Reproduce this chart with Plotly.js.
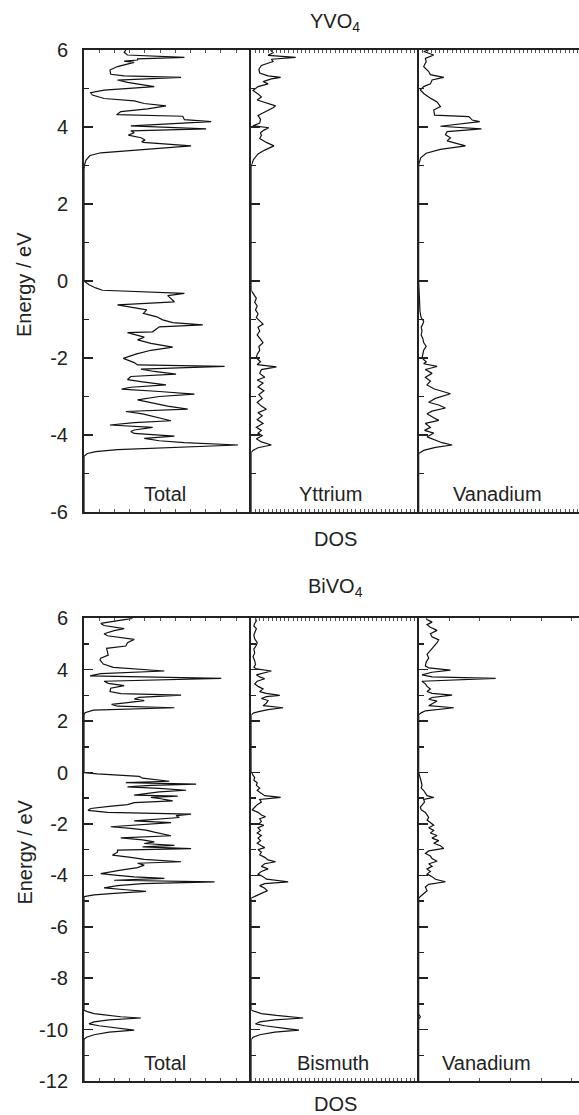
<!DOCTYPE html>
<html>
<head>
<meta charset="utf-8">
<script src="https://cdn.plot.ly/plotly-3.0.1.min.js"></script>
<style>
  html, body { margin: 0; padding: 0; background: #fff; overflow: hidden; }
  #chart { width: 600px; height: 1115px; }
</style>
</head>
<body>
<div id="chart"></div>
<script>
// ---------------- DATA: [energy (eV), DOS (arb. units)] ----------------
const panelNames = ["Total", "Yttrium", "Vanadium", "Total", "Bismuth", "Vanadium"];
const chartTitles = ["YVO<sub>4</sub>", "BiVO<sub>4</sub>"];
const xTitle = "DOS";
const yTitle = "Energy / eV";
const topTickVals = [-6, -4, -2, 0, 2, 4, 6];
const topMinorVals = [-5, -3, -1, 1, 3, 5];
const botTickVals = [-12, -10, -8, -6, -4, -2, 0, 2, 4, 6];
const botMinorVals = [-11, -9, -7, -5, -3, -1, 1, 3, 5];

const yvo4Total = [
  [6.0,2.5],[5.94,2.4],[5.87,2.6],[5.81,6.0],[5.77,3.2],[5.74,3.2],[5.71,2.4],[5.68,3.0],[5.57,2.0],[5.48,1.55],
  [5.37,1.6],[5.33,2.4],[5.29,5.8],[5.22,2.0],[5.16,2.6],[5.05,4.2],[4.96,1.2],[4.89,0.4],[4.83,0.5],[4.74,1.2],
  [4.68,3.0],[4.61,3.6],[4.55,4.9],[4.47,3.8],[4.40,2.2],[4.32,1.95],[4.28,5.9],[4.19,6.0],[4.14,7.6],[4.03,2.8],
  [3.95,7.3],[3.90,2.8],[3.85,3.0],[3.79,2.65],[3.72,3.4],[3.66,3.65],[3.62,3.45],[3.60,3.55],[3.51,6.4],[3.33,1.0],
  [3.26,0.36],[3.14,0.12],[3.0,0.02],[2.9,0],
  [0.0,0],[-0.1,0.3],[-0.18,0.7],[-0.24,1.1],[-0.32,6.0],[-0.38,5.0],[-0.54,5.4],[-0.62,2.0],[-0.75,3.75],[-0.84,3.55],
  [-0.93,4.35],[-1.01,4.7],[-1.08,5.3],[-1.14,7.1],[-1.19,4.5],[-1.32,4.1],[-1.34,2.6],[-1.46,3.6],[-1.53,3.2],[-1.62,4.0],
  [-1.72,5.3],[-1.80,4.0],[-1.90,3.1],[-2.01,2.35],[-2.12,3.0],[-2.18,3.2],[-2.22,8.4],[-2.29,3.4],[-2.35,4.2],[-2.42,5.5],
  [-2.48,2.8],[-2.56,2.6],[-2.62,3.5],[-2.70,4.9],[-2.76,2.8],[-2.81,2.25],[-2.87,4.5],[-2.94,6.6],[-3.00,4.5],[-3.09,3.2],
  [-3.16,4.0],[-3.25,5.0],[-3.33,6.2],[-3.39,2.5],[-3.45,3.5],[-3.55,4.5],[-3.63,5.2],[-3.68,3.0],[-3.74,1.55],[-3.80,4.1],
  [-3.87,3.0],[-3.91,2.8],[-3.96,3.0],[-4.03,5.4],[-4.09,3.6],[-4.15,4.5],[-4.20,6.0],[-4.26,9.2],[-4.32,5.0],[-4.38,2.0],
  [-4.43,0.7],[-4.48,0.2],[-4.55,0],[-6.0,0]
];
const yvo4Yttrium = [
  [6.0,1.15],[5.93,1.3],[5.86,1.0],[5.81,2.65],[5.76,1.2],[5.7,1.3],[5.6,0.6],[5.5,0.45],[5.4,0.5],[5.33,1.0],
  [5.29,1.75],[5.25,1.2],[5.18,0.7],[5.12,1.0],[5.05,0.4],[4.95,0.1],[4.86,0.4],[4.78,0.6],[4.7,0.35],[4.62,1.0],
  [4.55,1.45],[4.5,1.3],[4.4,0.8],[4.3,0.4],[4.2,0.55],[4.1,0.5],[4.03,0.1],[3.98,1.05],[3.92,0.75],[3.85,0.55],
  [3.78,0.6],[3.7,0.5],[3.6,0.9],[3.51,1.35],[3.4,0.8],[3.3,0.4],[3.15,0.12],[3.0,0],
  [-0.25,0],[-0.35,0.15],[-0.45,0.3],[-0.55,0.2],[-0.65,0.35],[-0.75,0.25],[-0.85,0.4],[-0.95,0.3],[-1.05,0.55],[-1.12,0.7],
  [-1.2,0.4],[-1.3,0.5],[-1.4,0.35],[-1.5,0.55],[-1.6,0.7],[-1.7,0.45],[-1.8,0.5],[-1.9,0.35],[-2.0,0.3],[-2.1,0.55],
  [-2.17,0.35],[-2.23,1.5],[-2.3,0.6],[-2.4,0.5],[-2.5,0.8],[-2.57,0.35],[-2.65,0.7],[-2.75,0.4],[-2.85,0.75],[-2.95,0.45],
  [-3.05,0.65],[-3.15,0.35],[-3.25,0.6],[-3.33,0.9],[-3.42,0.4],[-3.5,0.65],[-3.6,0.35],[-3.7,0.7],[-3.8,0.3],[-3.88,0.6],
  [-3.95,0.4],[-4.02,0.65],[-4.1,0.3],[-4.18,0.6],[-4.26,1.2],[-4.33,0.4],[-4.4,0.1],[-4.45,0],[-6.0,0]
];
const yvo4Vanadium = [
  [6.0,0.6],[5.96,0.3],[5.87,0.9],[5.78,0.4],[5.7,0.45],[5.57,0.3],[5.44,0.6],[5.36,0.7],[5.29,1.5],[5.22,0.8],
  [5.12,0.7],[5.05,0.3],[4.96,0.1],[4.87,0.3],[4.75,0.7],[4.65,1.1],[4.53,1.3],[4.44,0.9],[4.31,0.95],[4.27,3.0],
  [4.18,3.2],[4.14,3.65],[4.02,1.3],[3.95,3.75],[3.88,1.7],[3.8,1.6],[3.72,1.9],[3.64,1.7],[3.51,2.8],[3.42,1.3],
  [3.32,0.45],[3.2,0.12],[3.05,0.02],[3.0,0],
  [0.0,0],[-0.2,0.02],[-0.4,0.05],[-0.6,0.05],[-0.8,0.08],[-0.95,0.15],[-1.05,0.3],[-1.12,0.25],[-1.2,0.15],[-1.3,0.2],
  [-1.4,0.15],[-1.5,0.25],[-1.6,0.3],[-1.7,0.45],[-1.8,0.3],[-1.9,0.25],[-2.0,0.2],[-2.1,0.45],[-2.15,0.3],[-2.22,1.1],
  [-2.3,0.4],[-2.4,0.8],[-2.5,0.4],[-2.6,0.7],[-2.7,0.5],[-2.8,0.9],[-2.93,1.9],[-3.05,1.0],[-3.15,0.6],[-3.22,1.2],
  [-3.3,1.6],[-3.38,0.8],[-3.45,0.5],[-3.55,0.9],[-3.62,1.2],[-3.7,0.4],[-3.8,0.7],[-3.88,0.35],[-3.95,0.9],[-4.05,0.5],
  [-4.12,0.9],[-4.2,1.4],[-4.26,2.0],[-4.32,1.0],[-4.4,0.3],[-4.48,0],[-6.0,0]
];
const bivo4Total = [
  [6.0,2.9],[5.8,1.0],[5.72,1.2],[5.6,2.4],[5.52,1.8],[5.4,1.2],[5.32,1.4],[5.18,3.0],[5.05,2.6],[4.92,2.5],
  [4.83,1.35],[4.7,1.4],[4.57,1.45],[4.45,1.0],[4.38,0.95],[4.22,1.15],[4.09,1.75],[3.95,4.8],[3.85,1.0],[3.76,0.36],
  [3.66,8.2],[3.55,1.2],[3.47,1.45],[3.38,2.4],[3.28,1.6],[3.15,1.55],[3.07,2.2],[3.01,5.8],[2.92,3.3],[2.86,3.0],
  [2.8,3.6],[2.72,2.6],[2.65,1.65],[2.58,2.0],[2.52,5.4],[2.43,0.56],[2.33,0.06],[2.25,0],
  [0.0,0],[-0.05,0.8],[-0.1,2.5],[-0.15,3.3],[-0.22,3.5],[-0.3,4.5],[-0.34,5.1],[-0.39,2.5],[-0.45,6.7],[-0.5,4.0],
  [-0.56,2.6],[-0.62,4.5],[-0.69,6.1],[-0.75,4.5],[-0.82,3.5],[-0.88,3.0],[-0.92,5.6],[-0.97,4.0],[-1.01,4.5],[-1.1,5.3],
  [-1.17,3.0],[-1.25,2.6],[-1.32,1.5],[-1.4,0.4],[-1.47,0.24],[-1.55,1.4],[-1.62,6.4],[-1.68,5.5],[-1.75,5.7],[-1.82,4.0],
  [-1.88,3.0],[-1.95,5.2],[-2.02,3.5],[-2.11,1.6],[-2.17,2.8],[-2.24,3.7],[-2.32,4.2],[-2.4,4.8],[-2.46,5.2],[-2.54,2.2],
  [-2.62,3.5],[-2.7,4.2],[-2.76,3.6],[-2.83,5.4],[-2.89,3.5],[-2.96,6.4],[-3.02,2.0],[-3.1,2.0],[-3.21,1.7],[-3.3,2.8],
  [-3.38,3.6],[-3.47,5.8],[-3.53,3.2],[-3.6,3.6],[-3.7,3.2],[-3.8,2.2],[-3.93,1.0],[-4.0,2.0],[-4.06,3.0],[-4.12,4.8],
  [-4.19,1.8],[-4.25,7.8],[-4.32,3.5],[-4.4,2.0],[-4.49,1.2],[-4.56,2.5],[-4.62,3.7],[-4.7,1.8],[-4.76,0.6],[-4.83,0],
  [-9.25,0],[-9.3,0.2],[-9.38,0.6],[-9.42,1.1],[-9.5,2.2],[-9.55,3.4],[-9.62,1.5],[-9.7,0.6],[-9.78,0.3],[-9.85,0.9],
  [-9.95,2.2],[-10.02,3.0],[-10.1,1.5],[-10.2,0.6],[-10.3,0.15],[-10.38,0],[-12.0,0]
];
const bivo4Bismuth = [
  [6.0,0.25],[5.9,0.3],[5.8,0.2],[5.7,0.15],[5.6,0.3],[5.5,0.25],[5.35,0.15],[5.2,0.2],[5.05,0.35],[4.95,0.3],
  [4.8,0.15],[4.65,0.2],[4.5,0.1],[4.35,0.2],[4.2,0.25],[4.1,0.15],[4.03,0.3],[3.95,1.2],[3.88,0.7],[3.8,0.3],
  [3.72,0.5],[3.65,0.8],[3.55,0.35],[3.45,0.2],[3.35,0.4],[3.25,0.7],[3.15,0.5],[3.08,0.9],[3.0,1.7],[2.95,0.9],
  [2.88,0.6],[2.8,1.0],[2.7,0.9],[2.6,0.7],[2.52,1.9],[2.45,1.0],[2.38,0.5],[2.32,0.15],[2.25,0],
  [0.0,0],[-0.1,0.1],[-0.2,0.2],[-0.3,0.15],[-0.4,0.35],[-0.5,0.3],[-0.6,0.5],[-0.7,0.35],[-0.8,0.6],[-0.9,0.8],
  [-0.97,1.75],[-1.05,0.5],[-1.15,0.6],[-1.25,0.35],[-1.35,0.2],[-1.45,0.05],[-1.55,0.4],[-1.65,0.6],[-1.72,0.85],[-1.8,0.5],
  [-1.9,0.6],[-2.0,0.45],[-2.05,0.75],[-2.15,0.4],[-2.25,0.55],[-2.35,0.35],[-2.45,0.6],[-2.55,0.4],[-2.65,0.55],[-2.75,0.35],
  [-2.85,0.6],[-2.92,0.8],[-3.0,0.4],[-3.1,0.6],[-3.2,0.5],[-3.3,0.8],[-3.4,1.0],[-3.47,1.45],[-3.55,0.8],[-3.65,0.6],
  [-3.75,1.0],[-3.85,0.6],[-3.95,0.4],[-4.05,0.7],[-4.15,0.9],[-4.25,2.2],[-4.32,0.8],[-4.4,0.5],[-4.5,0.8],[-4.6,0.95],
  [-4.7,0.6],[-4.8,0.3],[-4.88,0],
  [-9.25,0],[-9.3,0.2],[-9.38,0.6],[-9.45,1.5],[-9.55,3.1],[-9.62,1.4],[-9.7,0.5],[-9.78,0.25],[-9.85,0.8],[-9.95,2.0],
  [-10.02,2.85],[-10.1,1.4],[-10.2,0.5],[-10.3,0.1],[-10.38,0],[-12.0,0]
];
const bivo4Vanadium = [
  [6.0,0.45],[5.95,0.5],[5.85,0.8],[5.75,0.5],[5.65,0.7],[5.53,1.1],[5.4,0.7],[5.28,0.8],[5.16,1.2],[5.05,1.1],
  [4.9,0.9],[4.75,0.7],[4.6,0.5],[4.45,0.6],[4.3,0.45],[4.15,0.4],[4.07,0.6],[3.98,1.9],[3.9,0.8],[3.8,0.2],
  [3.72,0.8],[3.66,4.6],[3.55,0.2],[3.45,0.4],[3.35,0.5],[3.25,0.7],[3.15,0.5],[3.08,0.8],[3.01,2.0],[2.92,0.8],
  [2.85,0.6],[2.78,1.1],[2.7,0.9],[2.6,0.6],[2.52,2.1],[2.45,0.8],[2.4,0.4],[2.32,0.15],[2.25,0],
  [0.0,0],[-0.1,0.05],[-0.2,0.1],[-0.35,0.15],[-0.5,0.2],[-0.6,0.15],[-0.7,0.3],[-0.8,0.4],[-0.9,0.5],[-0.97,0.9],
  [-1.05,0.3],[-1.15,0.35],[-1.25,0.2],[-1.35,0.1],[-1.45,0.15],[-1.55,0.4],[-1.65,0.5],[-1.75,0.6],[-1.85,0.5],[-1.95,0.7],
  [-2.05,0.9],[-2.15,0.6],[-2.25,0.9],[-2.35,0.7],[-2.45,1.1],[-2.55,0.8],[-2.65,1.2],[-2.75,0.9],[-2.85,1.3],[-2.95,1.5],
  [-3.05,0.6],[-3.15,0.4],[-3.25,0.7],[-3.35,0.8],[-3.45,1.1],[-3.55,0.6],[-3.65,0.8],[-3.75,0.5],[-3.85,0.7],[-3.95,0.5],
  [-4.05,0.8],[-4.15,1.0],[-4.25,1.6],[-4.35,0.6],[-4.45,0.4],[-4.6,0.5],[-4.7,0.3],[-4.82,0.1],[-4.9,0],
  [-9.4,0],[-9.5,0.1],[-9.6,0],[-12.0,0]
];

// ---------------- FIGURE ----------------
const FONT = 'Arial, "Liberation Sans", Helvetica, sans-serif';
const INK = '#222';
const series = [yvo4Total, yvo4Yttrium, yvo4Vanadium, bivo4Total, bivo4Bismuth, bivo4Vanadium];
const traces = series.map((s, i) => ({
  type: 'scatter', mode: 'lines',
  x: s.map(p => p[1]), y: s.map(p => p[0]),
  xaxis: 'x' + (i + 1), yaxis: 'y' + (i + 1),
  line: { color: '#111', width: 1.2 },
  hoverinfo: 'skip', showlegend: false
}));

const xDomains = [[0, 1/3], [1/3, 2/3], [2/3, 1]];
const topDom = [0.5519, 1];
const botDom = [0, 0.4488];
const xDticks = [10/11, 0.25, 0.25, 10/11, 0.25, 1.83];

const layout = {
  width: 600, height: 1115,
  margin: { l: 84, r: 13.5, t: 50, b: 34 },
  paper_bgcolor: '#fff', plot_bgcolor: '#fff',
  font: { family: FONT, size: 20, color: INK },
  showlegend: false,
  annotations: []
};

for (let i = 0; i < 6; i++) {
  const k = i + 1;
  const top = i < 3;
  const xa = {
    domain: xDomains[i % 3], range: [0, 10], anchor: 'y' + k,
    showline: true, linecolor: INK, linewidth: 2, mirror: 'allticks',
    ticks: 'inside', ticklen: 3, tickwidth: 1, tickcolor: '#555',
    tickmode: 'linear', tick0: 0, dtick: xDticks[i],
    showticklabels: false, showgrid: false, zeroline: false, fixedrange: true
  };
  const vals = top ? topTickVals : botTickVals;
  const ya = {
    domain: top ? topDom : botDom, range: top ? [-6, 6] : [-12, 6], anchor: 'x' + k,
    showline: true, linecolor: INK, linewidth: 2, mirror: false,
    ticks: 'inside', ticklen: 9, tickwidth: 1.5, tickcolor: INK,
    tickmode: 'array', tickvals: vals, ticktext: vals.map(v => String(v)),
    minor: { tickmode: 'array', tickvals: top ? topMinorVals : botMinorVals,
             ticks: 'inside', ticklen: 5, tickwidth: 1.5, tickcolor: INK },
    showticklabels: (i % 3) === 0, tickfont: { family: FONT, size: 20, color: INK },
    ticklabelstandoff: 10,
    showgrid: false, zeroline: false, fixedrange: true
  };
  layout['xaxis' + (k === 1 ? '' : k)] = xa;
  layout['yaxis' + (k === 1 ? '' : k)] = ya;
}

const ann = (text, x, y, extra) => Object.assign({
  text, x, y, xref: 'paper', yref: 'paper', showarrow: false,
  xanchor: 'center', yanchor: 'middle', font: { family: FONT, size: 20, color: INK }
}, extra || {});

// panel labels
const labelX = [0.1612, 0.4905, 0.8229, 0.1618, 0.4961, 0.8016];
panelNames.forEach((n, i) => {
  layout.annotations.push(ann(n, labelX[i], i < 3 ? 0.5693 : 0.0170));
});
layout.annotations.push(ann(chartTitles[0], 0.5005, 1.0262));
layout.annotations.push(ann(chartTitles[1], 0.5005, 0.4791));
layout.annotations.push(ann(xTitle, 0.5, 0.5257));
layout.annotations.push(ann(xTitle, 0.5, -0.0223));
layout.annotations.push(ann(yTitle, -0.1194, 0.7721, { textangle: -90 }));
layout.annotations.push(ann(yTitle, -0.1194, 0.2216, { textangle: -90 }));

Plotly.newPlot('chart', traces, layout, { staticPlot: true, displayModeBar: false });
</script>
</body>
</html>
